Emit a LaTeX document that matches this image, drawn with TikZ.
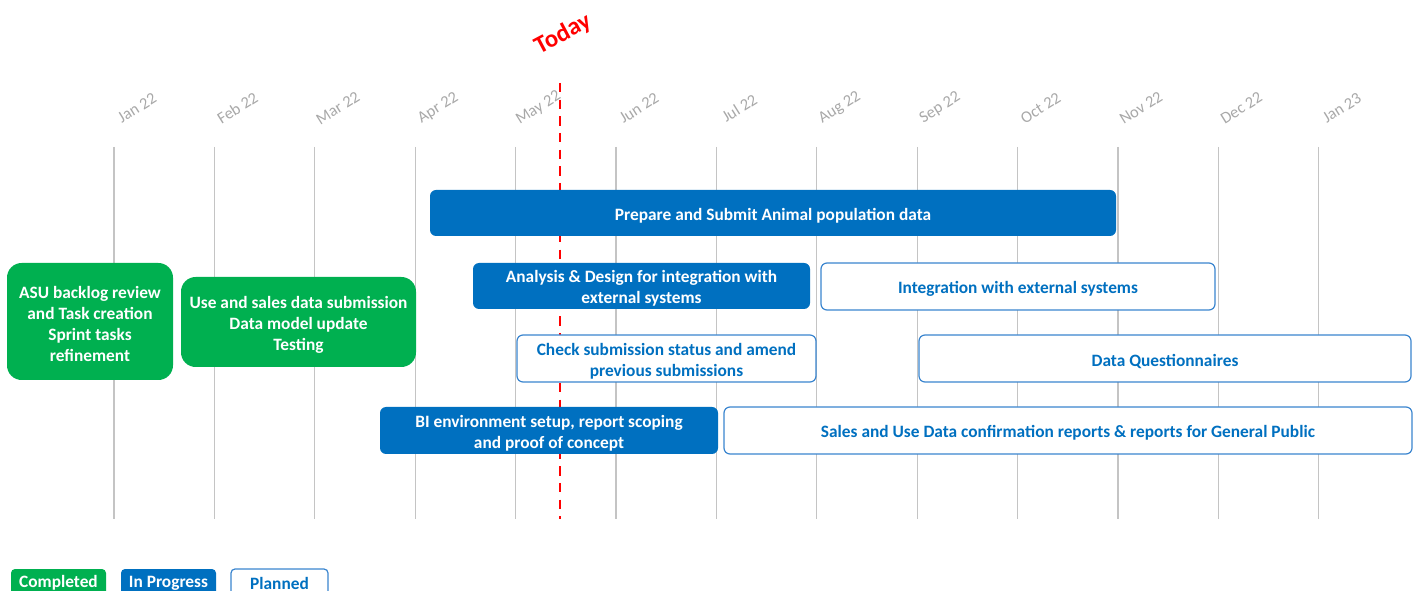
\documentclass[tikz,border=0pt]{standalone}
\usepackage{fontspec}
\setmainfont{Carlito}
\definecolor{pblue}{HTML}{0070C0}
\definecolor{pgreen}{HTML}{00B050}
\definecolor{pedge}{HTML}{3A85CF}
\definecolor{gridc}{HTML}{C4C4C4}
\definecolor{monthc}{HTML}{A8A8A8}
\definecolor{todayc}{HTML}{FF0000}
\tikzset{
  gridline/.style={draw=gridc, line width=0.9pt},
  month/.style={text=monthc, font=\fontsize{12.3}{14}\selectfont, rotate=32, inner sep=0pt},
  todaytxt/.style={text=todayc, font=\bfseries\fontsize{18.5}{22}\selectfont, rotate=28, inner sep=0pt},
  todayline/.style={draw=todayc, line width=2.2pt, dash pattern=on 7pt off 5.5pt},
  taskbase/.style={inner sep=0pt, align=center, font=\bfseries\fontsize{13}{15.8}\selectfont},
  done/.style={taskbase, fill=pgreen, text=white, rounded corners=11pt},
  inprog/.style={taskbase, fill=pblue, text=white, rounded corners=4.5pt},
  planned/.style={taskbase, fill=white, draw=pedge, line width=0.9pt, text=pblue, rounded corners=4.5pt},
  tasktext/.style={taskbase, yshift=-1.9pt},
}
% #1 style, #2 name, #3 x1, #4 y1, #5 x2, #6 y2, #7 text (pixel units)
\newcommand\tbox[7]{%
  \pgfmathsetmacro\bw{(#5-#3)*0.75}%
  \pgfmathsetmacro\bh{(#6-#4)*0.75}%
  \node[#1, minimum width=\bw pt, minimum height=\bh pt] (#2) at ({(#3+#5)/2},{(#4+#6)/2}) {};%
  \node[#1, tasktext, fill=none, draw=none] (#2t) at (#2.center) {#7};%
}
\begin{document}
\begin{tikzpicture}[x=0.75pt,y=-0.75pt]
\useasboundingbox (0,0) rectangle (1418,591);
% grid lines and month labels
\foreach \i/\m in {0/Jan 22,1/Feb 22,2/Mar 22,3/Apr 22,4/May 22,5/Jun 22,6/Jul 22,7/Aug 22,8/Sep 22,9/Oct 22,10/Nov 22,11/Dec 22,12/Jan 23}{
  \coordinate (gt\i) at ({114+100.4*\i},147);
  \coordinate (gb\i) at ({114+100.4*\i},519);
  \draw[gridline] (gt\i) -- (gb\i);
  \node[month] (m\i) at ({137+100.4*\i},108) {\m};
}
% today
\coordinate (tt) at (560,83);
\coordinate (tb) at (560,519);
\draw[todayline] (tt) -- (tb);
\node[todaytxt] (today) at (563,34) {Today};
% tasks
\tbox{inprog}{prep}{430}{190}{1116}{236}{Prepare and Submit Animal population data}
\tbox{done}{asu}{7}{263}{173}{380}{ASU backlog review\\and Task creation\\Sprint tasks\\refinement}
\tbox{done}{use}{181}{277}{416}{367}{Use and sales data submission\\Data model update\\Testing}
\tbox{inprog}{anal}{473}{263}{810}{309}{Analysis \& Design for integration with\\external systems}
\tbox{planned}{integ}{821}{263}{1215}{310}{Integration with external systems}
\tbox{planned}{check}{517}{335}{816}{382}{Check submission status and amend\\previous submissions}
\tbox{planned}{quest}{919}{335}{1411}{382}{Data Questionnaires}
\tbox{inprog}{bi}{380}{407}{718}{454}{BI environment setup, report scoping\\and proof of concept}
\tbox{planned}{sales}{724}{407}{1412}{454}{Sales and Use Data confirmation reports \& reports for General Public}
% legend
\begin{scope}
\clip (0,0) rectangle (1418,591);
\node[done, rounded corners=3pt, minimum width=71.25pt, minimum height=25.5pt] (lc) at (58.5,586) {};
\node[inprog, rounded corners=3pt, minimum width=71.25pt, minimum height=25.5pt] (li) at (168.5,586) {};
\node[planned, rounded corners=3pt, minimum width=72.75pt, minimum height=25.5pt] (lp) at (279.5,586) {};
\end{scope}
\node[taskbase, text=white] (lct) at (58.5,583) {Completed};
\node[taskbase, text=white] (lit) at (168.5,583) {In Progress};
\node[taskbase, text=pblue] (lpt) at (279.5,583) {Planned};
\end{tikzpicture}
\end{document}
